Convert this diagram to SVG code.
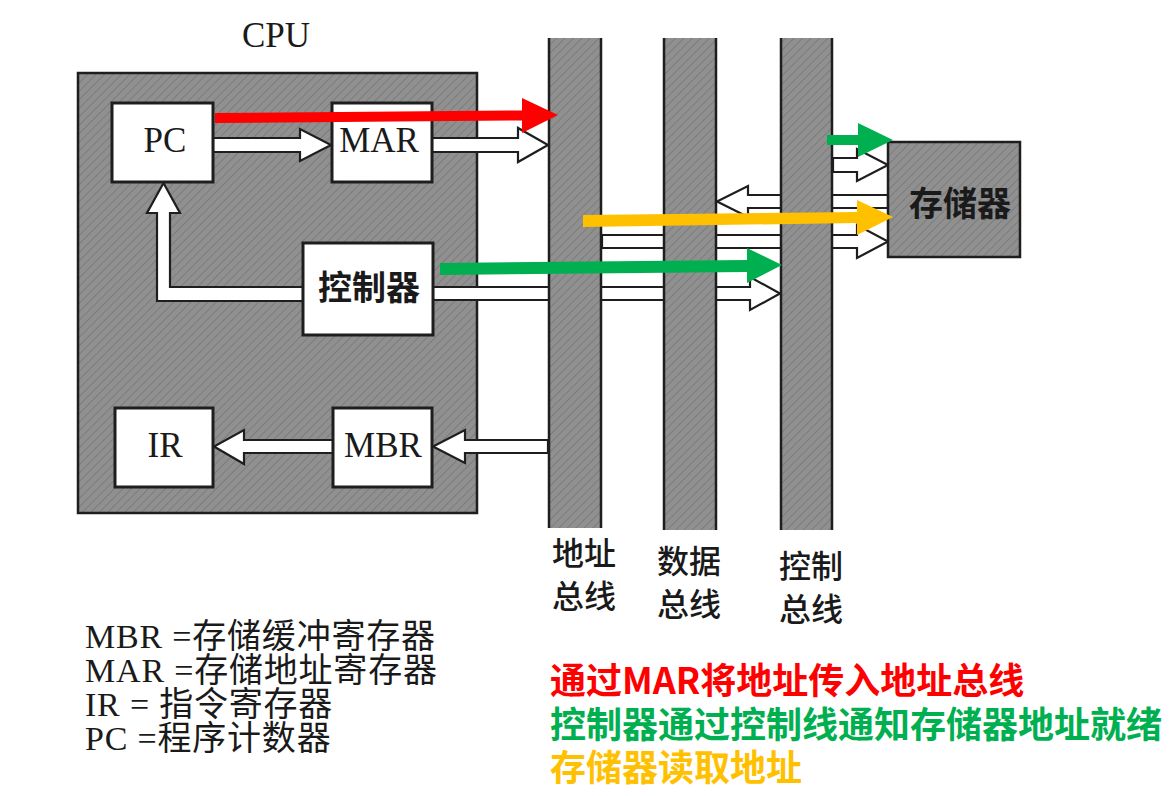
<svg xmlns="http://www.w3.org/2000/svg" width="1172" height="796" viewBox="0 0 1172 796">
<style>
.bg{fill:#ffffff}
.gray{fill:url(#tex);stroke:#1e1e1e;stroke-width:2.5}
.box{fill:#ffffff;stroke:#1e1e1e;stroke-width:3}
.hollow{fill:#ffffff;stroke:#1e1e1e;stroke-width:2.2;stroke-linejoin:miter}
.busedge{stroke:#1e1e1e;stroke-width:2.5}
.lat{font-family:"Liberation Serif","Noto Sans CJK SC",serif;fill:#1a1a1a}
.cjk{font-family:"Noto Sans CJK SC",sans-serif;fill:#1a1a1a}
.note{font-family:"Noto Sans CJK SC",sans-serif;font-weight:bold;font-size:36px}
</style>
<defs>
<pattern id="tex" width="6" height="6" patternUnits="userSpaceOnUse" patternTransform="rotate(45)">
<rect width="6" height="6" fill="#909090"/>
<line x1="0" y1="0" x2="0" y2="6" stroke="#7c7c7c" stroke-width="2"/>
</pattern>
</defs>
<rect class="bg" width="1172" height="796"/>

<g id="cpu">
<rect class="gray" x="78" y="73" width="399" height="440"/>
<text class="lat" x="276" y="47" font-size="35" text-anchor="middle">CPU</text>
</g>

<g id="connectors">
<polygon class="hollow" points="213,138 300,138 300,129 331,145 300,161 300,152 213,152"/>
<polygon class="hollow" points="432,138 518,138 518,128 548,145 518,162 518,152 432,152"/>
<polygon class="hollow" points="303,287 170,287 170,213 180,213 163.5,183 147,213 157,213 157,301 303,301"/>
<polygon class="hollow" points="433,287 750,287 750,277 780,293.5 750,310 750,300 433,300"/>
<polygon class="hollow" points="888,195 748,195 748,186 717,201.5 748,217 748,208 888,208"/>
<polygon class="hollow" points="602,235 857,235 857,225 888,241.5 857,258 857,248 602,248"/>
<polygon class="hollow" points="833,158 857,158 857,149 888,165 857,181 857,172 833,172"/>
<polygon class="hollow" points="548,440 465,440 465,430 433,446.5 465,463 465,453 548,453"/>
<polygon class="hollow" points="333,440 244,440 244,430 214,446.5 244,464 244,453 333,453"/>
</g>

<g id="address-bus">
<rect x="548" y="38" width="54" height="490" fill="url(#tex)"/>
<line class="busedge" x1="549" y1="38" x2="549" y2="528"/>
<line class="busedge" x1="601" y1="38" x2="601" y2="528"/>
<text class="cjk" x="584" y="565" font-size="32" font-weight="500" text-anchor="middle">地址</text>
<text class="cjk" x="584" y="608" font-size="32" font-weight="500" text-anchor="middle">总线</text>
</g>

<g id="data-bus">
<rect x="663" y="38" width="54" height="492" fill="url(#tex)"/>
<line class="busedge" x1="664" y1="38" x2="664" y2="530"/>
<line class="busedge" x1="716" y1="38" x2="716" y2="530"/>
<text class="cjk" x="689" y="573" font-size="32" font-weight="500" text-anchor="middle">数据</text>
<text class="cjk" x="689" y="616" font-size="32" font-weight="500" text-anchor="middle">总线</text>
</g>

<g id="control-bus">
<rect x="780" y="38" width="53" height="492" fill="url(#tex)"/>
<line class="busedge" x1="781" y1="38" x2="781" y2="530"/>
<line class="busedge" x1="832" y1="38" x2="832" y2="530"/>
<text class="cjk" x="811" y="578" font-size="32" font-weight="500" text-anchor="middle">控制</text>
<text class="cjk" x="811" y="621" font-size="32" font-weight="500" text-anchor="middle">总线</text>
</g>

<g id="pc">
<rect class="box" x="112" y="103" width="101" height="79"/>
<text class="lat" x="165" y="152" font-size="35" text-anchor="middle">PC</text>
</g>
<g id="mar">
<rect class="box" x="332" y="103" width="100" height="79"/>
<text class="lat" x="379" y="152" font-size="35" text-anchor="middle">MAR</text>
</g>
<g id="controller">
<rect class="box" x="303" y="243" width="130" height="92"/>
<text class="cjk" x="369" y="300" font-size="34" font-weight="bold" text-anchor="middle">控制器</text>
</g>
<g id="ir">
<rect class="box" x="115" y="408" width="98" height="79"/>
<text class="lat" x="165" y="457" font-size="35" text-anchor="middle">IR</text>
</g>
<g id="mbr">
<rect class="box" x="333" y="408" width="99" height="79"/>
<text class="lat" x="383" y="457" font-size="35" text-anchor="middle">MBR</text>
</g>
<g id="memory">
<rect class="gray" x="888" y="142" width="132" height="115"/>
<text class="cjk" x="960" y="216" font-size="34" font-weight="bold" text-anchor="middle">存储器</text>
</g>

<g id="highlight-arrows">
<polygon fill="#ff0000" points="215,113 522,110.5 522,98 558,115 522,133 522,120.5 215,123"/>
<polygon fill="#00b050" points="827,135 858,135 858,123 893,140 858,157 858,145 827,145"/>
<polygon fill="#ffc000" points="583,215 857,212 857,200 893,217 857,235 857,223 583,227"/>
<polygon fill="#00b050" points="440,263 747,260 747,248 782,265 747,283 747,272 440,275"/>
</g>

<g id="legend">
<text class="lat" x="85" y="648" font-size="34" letter-spacing="0.8">MBR =存储缓冲寄存器</text>
<text class="lat" x="85" y="682" font-size="34" letter-spacing="0.8">MAR =存储地址寄存器</text>
<text class="lat" x="85" y="716" font-size="34" letter-spacing="0.8">IR = 指令寄存器</text>
<text class="lat" x="85" y="750" font-size="34" letter-spacing="0.8">PC =程序计数器</text>
</g>

<g id="notes">
<text class="note" x="550" y="694" fill="#ff0000">通过MAR将地址传入地址总线</text>
<text class="note" x="550" y="738" fill="#00b050">控制器通过控制线通知存储器地址就绪</text>
<text class="note" x="550" y="781" fill="#ffc000">存储器读取地址</text>
</g>
</svg>
